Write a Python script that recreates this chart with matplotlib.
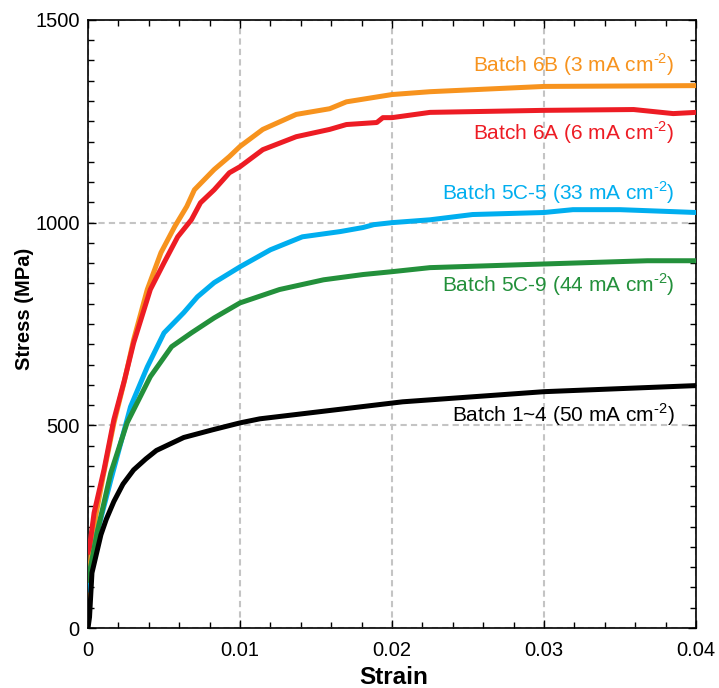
import numpy as np
import matplotlib
matplotlib.use('Agg')
import matplotlib.pyplot as plt
from matplotlib.ticker import MultipleLocator

plt.rcParams['font.family'] = ['Liberation Sans', 'DejaVu Sans']
plt.rcParams['mathtext.fontset'] = 'custom'
plt.rcParams['mathtext.rm'] = 'Liberation Sans'

# data (strain, stress in MPa)
strain_6b = [0, 0.0002, 0.0005, 0.001, 0.0017, 0.0024, 0.003, 0.0039, 0.0048, 0.0057,
             0.0065, 0.007, 0.0083, 0.0093, 0.01, 0.0115, 0.0137, 0.0159, 0.017, 0.02,
             0.0225, 0.03, 0.04]
stress_6b = [77, 180, 275, 375, 505, 610, 711, 835, 926, 990,
             1040, 1081, 1131, 1163, 1188, 1230, 1267, 1281, 1298, 1316,
             1323, 1336, 1338]

strain_6a = [0, 0.0001, 0.0004, 0.00105, 0.0017, 0.0024, 0.003, 0.0041, 0.005, 0.0059,
             0.0068, 0.0074, 0.0083, 0.0093, 0.01, 0.0115, 0.0137, 0.0159, 0.017, 0.019,
             0.0194, 0.02, 0.0225, 0.03, 0.0359, 0.0385, 0.04]
stress_6a = [188, 200, 284, 390, 514, 612, 703, 835, 901, 965,
             1007, 1049, 1081, 1123, 1138, 1180, 1212, 1230, 1242, 1247,
             1259, 1259, 1272, 1277, 1279, 1269, 1272]

strain_5c5 = [0, 0.0006, 0.0015, 0.0028, 0.0039, 0.005, 0.0063, 0.0072, 0.0083, 0.01,
              0.012, 0.0141, 0.0166, 0.0181, 0.0188, 0.02, 0.0225, 0.0253, 0.03, 0.0319,
              0.035, 0.04]
stress_5c5 = [94, 235, 365, 546, 644, 728, 778, 817, 852, 891,
              933, 965, 978, 988, 995, 1000, 1007, 1020, 1025, 1032,
              1032, 1025]

strain_5c9 = [0, 0.0006, 0.0015, 0.00257, 0.0041, 0.0055, 0.0068, 0.0083, 0.01, 0.0126,
              0.0155, 0.0181, 0.02, 0.0225, 0.03, 0.0368, 0.04]
stress_5c9 = [118, 235, 383, 506, 620, 694, 728, 765, 802, 835,
              859, 872, 879, 889, 898, 906, 906]

strain_14 = [0, 0.0001, 0.00026, 0.00085, 0.0012, 0.0017, 0.0023, 0.003, 0.0038, 0.0045,
             0.0063, 0.0082, 0.01, 0.0113, 0.0207, 0.03, 0.04]
stress_14 = [0, 27, 136, 230, 268, 312, 355, 390, 417, 438,
             470, 489, 506, 516, 558, 583, 598]

labels = [r'Batch 6B (3 mA cm$^{\text{-2}}$)', r'Batch 6A (6 mA cm$^{\text{-2}}$)',
          r'Batch 5C-5 (33 mA cm$^{\text{-2}}$)', r'Batch 5C-9 (44 mA cm$^{\text{-2}}$)',
          r'Batch 1~4 (50 mA cm$^{\text{-2}}$)']
colors = ['#F7931E', '#ED1C24', '#00AEEF', '#23903B', '#000000']
label_y = [1390, 1222, 1074, 847, 526]

fig = plt.figure(figsize=(7.19, 6.88), dpi=100)
ax = fig.add_axes([0.1224, 0.0872, 0.8456, 0.8838])

series = [(strain_6b, stress_6b), (strain_6a, stress_6a), (strain_5c5, stress_5c5),
          (strain_5c9, stress_5c9), (strain_14, stress_14)]
for (sx, sy), c in zip(series, colors):
    ax.plot(sx, sy, color=c, lw=3.6, solid_joinstyle='round', zorder=3)

for lab, c, ly in zip(labels, colors, label_y):
    ax.text(0.0386, ly, lab, color=c, fontsize=15, ha='right', va='center', zorder=4)

ax.set_xlim(0, 0.04)
ax.set_ylim(0, 1500)
ax.xaxis.set_minor_locator(MultipleLocator(0.002))
ax.yaxis.set_minor_locator(MultipleLocator(50))
ax.set_xticks([0, 0.01, 0.02, 0.03, 0.04])
ax.set_xticklabels(['0', '0.01', '0.02', '0.03', '0.04'])
ax.set_yticks([0, 500, 1000, 1500])
ax.set_yticklabels(['0', '500', '1000', '1500'])
ax.tick_params(which='both', direction='in', top=True, right=True, labelsize=14.5, width=1)
ax.tick_params(which='major', length=6)
ax.tick_params(which='minor', length=4)
ax.tick_params(axis='x', pad=9)
ax.tick_params(axis='y', pad=6)
ax.grid(True, which='major', color='#C4C4C4', ls=(0, (3, 2)), lw=1.5, zorder=1)
for s in ax.spines.values():
    s.set_linewidth(1.2)

fig.text(393.5 / 719, 1 - 678 / 688, 'Strain', fontsize=17.5, fontweight='bold',
         ha='center', va='center')
fig.text(24 / 719, 1 - 309 / 688, 'Stress (MPa)', fontsize=14.5, fontweight='bold',
         ha='center', va='center', rotation=90)

fig.savefig('out.png', dpi=100)
